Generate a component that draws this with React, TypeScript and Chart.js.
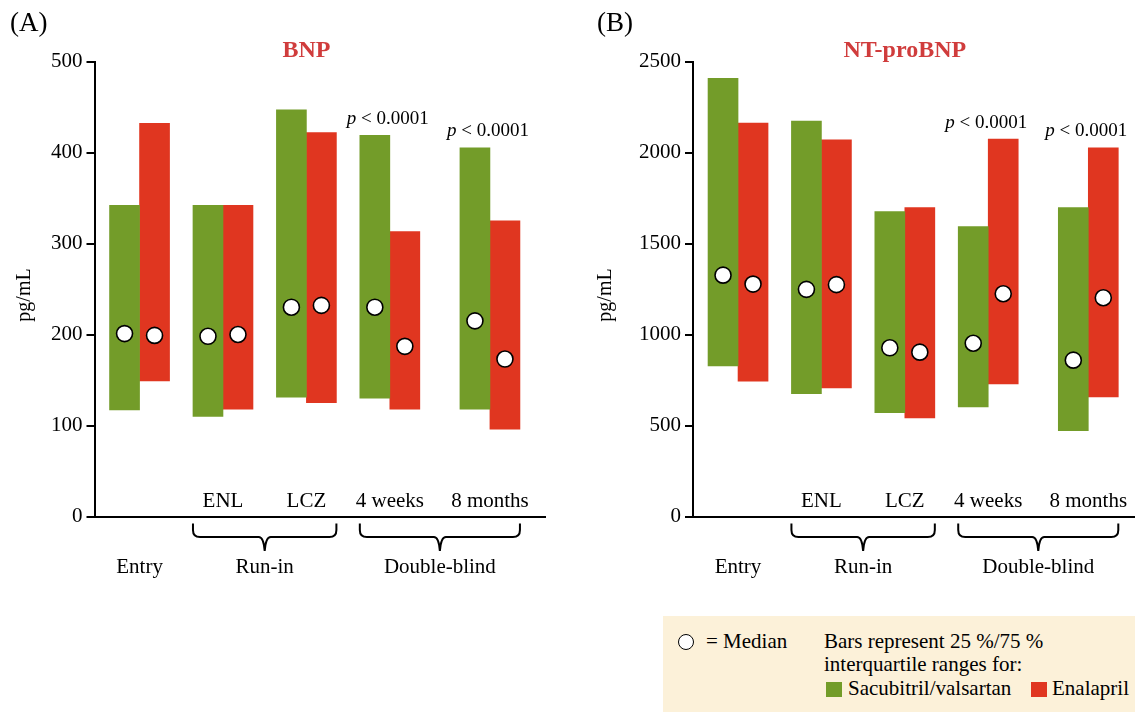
import React, { useEffect, useRef } from "react";
import { Chart, registerables } from "chart.js";

Chart.register(...registerables);

// ---------- data ----------
const timepoints = ["Entry", "ENL", "LCZ", "4 weeks", "8 months"];
const phaseOf = ["Entry", "Run-in", "Run-in", "Double-blind", "Double-blind"];
// position of each time point on the (linear) study axis
const timepointX = [0, 1, 2, 3, 4.2];
const pValues = ["", "", "", "< 0.0001", "< 0.0001"];

// BNP (pg/mL)
const bnpSacQ1 = [117, 110, 131, 130, 118];
const bnpSacQ3 = [342, 342, 447, 419, 405];
const bnpSacMed = [201, 198, 230, 230, 215];
const bnpEnaQ1 = [149, 118, 125, 118, 96];
const bnpEnaQ3 = [432, 342, 422, 313, 325];
const bnpEnaMed = [199, 200, 232, 187, 173];
const bnpTicks = [0, 100, 200, 300, 400, 500];

// NT-proBNP (pg/mL)
const ntSacQ1 = [828, 675, 571, 602, 471];
const ntSacQ3 = [2408, 2173, 1675, 1593, 1697];
const ntSacMed = [1326, 1248, 927, 952, 859];
const ntEnaQ1 = [744, 706, 542, 728, 657];
const ntEnaQ3 = [2162, 2069, 1697, 2074, 2025];
const ntEnaMed = [1277, 1274, 903, 1224, 1202];
const ntTicks = [0, 500, 1000, 1500, 2000, 2500];

const seriesNames = ["Sacubitril/valsartan", "Enalapril"];

// ---------- styles ----------
const GREEN = "#739c29";
const RED = "#e03620";
const TITLE_RED = "#d03c3c";
const SERIF = '"Liberation Serif", "Times New Roman", "DejaVu Serif", serif';

type PanelProps = {
  title: string;
  sacQ1: number[];
  sacQ3: number[];
  sacMed: number[];
  enaQ1: number[];
  enaQ3: number[];
  enaMed: number[];
  ticks: number[];
  width: number;
  yAxisWidth: number;
  padRight: number;
  xMax: number;
  yTitleX: number;
};

function drawBrace(ctx: CanvasRenderingContext2D, x1: number, x2: number, yTop: number, yMid: number, yTip: number) {
  const r = 7;
  const v = 6;
  const cx = (x1 + x2) / 2;
  ctx.beginPath();
  ctx.moveTo(x1, yTop);
  ctx.lineTo(x1, yMid - r);
  ctx.quadraticCurveTo(x1, yMid, x1 + r, yMid);
  ctx.lineTo(cx - v, yMid);
  ctx.quadraticCurveTo(cx - 1, yMid, cx, yTip);
  ctx.quadraticCurveTo(cx + 1, yMid, cx + v, yMid);
  ctx.lineTo(x2 - r, yMid);
  ctx.quadraticCurveTo(x2, yMid, x2, yMid - r);
  ctx.lineTo(x2, yTop);
  ctx.stroke();
}

function Panel(p: PanelProps) {
  const ref = useRef<HTMLCanvasElement | null>(null);
  useEffect(() => {
    if (!ref.current) return;
    const overlay = {
      id: "overlay",
      afterDatasetsDraw(chart: any) {
        const { ctx, chartArea, scales } = chart;
        const xs = scales.x;
        const ys = scales.y;
        const metaS = chart.getDatasetMeta(0);
        const metaE = chart.getDatasetMeta(1);
        ctx.save();
        // medians
        [p.sacMed, p.enaMed].forEach((arr, di) => {
          const meta = chart.getDatasetMeta(di);
          meta.data.forEach((el: any, j: number) => {
            const y = ys.getPixelForValue(arr[j]);
            ctx.beginPath();
            ctx.arc(el.x, y, 8, 0, Math.PI * 2);
            ctx.fillStyle = "#ffffff";
            ctx.fill();
            ctx.lineWidth = 1.6;
            ctx.strokeStyle = "#000";
            ctx.stroke();
          });
        });
        ctx.fillStyle = "#000";
        ctx.textAlign = "center";
        ctx.textBaseline = "middle";
        // time point labels inside plot
        ctx.font = `21px ${SERIF}`;
        timepoints.forEach((t, j) => {
          if (t === phaseOf[j]) return;
          ctx.fillText(t, xs.getPixelForValue(timepointX[j]), chartArea.bottom - 15);
        });
        // braces & phase labels
        const phases: string[] = [];
        phaseOf.forEach((ph) => { if (!phases.includes(ph)) phases.push(ph); });
        ctx.lineWidth = 2;
        ctx.strokeStyle = "#000";
        phases.forEach((ph) => {
          const idx = phaseOf.map((q, j) => (q === ph ? j : -1)).filter((j) => j >= 0);
          const a = idx[0];
          const b = idx[idx.length - 1];
          let cx;
          if (idx.length > 1) {
            const elA = metaS.data[a];
            const elB = metaE.data[b];
            const x1 = elA.x - elA.width / 2;
            const x2 = elB.x + elB.width / 2;
            drawBrace(ctx, x1, x2, chartArea.bottom + 7, chartArea.bottom + 20.5, chartArea.bottom + 34.5);
            cx = (x1 + x2) / 2;
          } else {
            cx = xs.getPixelForValue(timepointX[a]);
          }
          ctx.fillText(ph, cx, chartArea.bottom + 51);
        });
        // p values
        pValues.forEach((pv, j) => {
          if (!pv) return;
          const top = ys.getPixelForValue(Math.max(p.sacQ3[j], p.enaQ3[j]));
          const y = top - 16.5;
          const cx = xs.getPixelForValue(timepointX[j]) - 2;
          ctx.font = `italic 19px ${SERIF}`;
          const w1 = ctx.measureText("p").width;
          ctx.font = `19px ${SERIF}`;
          const rest = " " + pv;
          const w2 = ctx.measureText(rest).width;
          const x0 = cx - (w1 + w2) / 2;
          ctx.textAlign = "left";
          ctx.font = `italic 19px ${SERIF}`;
          ctx.fillText("p", x0, y);
          ctx.font = `19px ${SERIF}`;
          ctx.fillText(rest, x0 + w1, y);
          ctx.textAlign = "center";
        });
        // title
        ctx.font = `bold 24px ${SERIF}`;
        ctx.fillStyle = TITLE_RED;
        ctx.fillText(p.title, xs.getPixelForValue(timepointX[2]), 51);
        // y axis title
        ctx.fillStyle = "#000";
        ctx.font = `20px ${SERIF}`;
        ctx.translate(p.yTitleX, 295);
        ctx.rotate(-Math.PI / 2);
        ctx.fillText("pg/mL", 0, 0);
        ctx.restore();
      },
    };

    const chart = new Chart(ref.current, {
      type: "bar",
      data: {
        datasets: [
          {
            label: seriesNames[0],
            data: timepointX.map((x, i) => ({ x, y: [p.sacQ1[i], p.sacQ3[i]] })) as any,
            backgroundColor: GREEN,
            barThickness: 30,
          },
          {
            label: seriesNames[1],
            data: timepointX.map((x, i) => ({ x, y: [p.enaQ1[i], p.enaQ3[i]] })) as any,
            backgroundColor: RED,
            barThickness: 30,
          },
        ],
      },
      options: {
        animation: false,
        responsive: false,
        maintainAspectRatio: false,
        layout: { padding: { top: 61.5, left: 0, right: p.padRight, bottom: 0 } },
        plugins: {
          legend: { display: false },
          tooltip: { enabled: false },
          title: { display: false },
        },
        scales: {
          x: {
            type: "linear",
            min: -0.54,
            max: p.xMax,
            offset: false,
            ticks: { display: false },
            grid: { display: false },
            border: { display: true, color: "#000", width: 2 },
            afterFit: (s: any) => {
              s.height = 195.5;
            },
          },
          y: {
            type: "linear",
            min: p.ticks[0],
            max: p.ticks[p.ticks.length - 1],
            afterBuildTicks: (s: any) => {
              s.ticks = p.ticks.map((v) => ({ value: v }));
            },
            ticks: {
              color: "#000",
              font: { family: SERIF, size: 21 },
              padding: 4,
              callback: (v: any) => String(v),
            },
            grid: {
              drawOnChartArea: false,
              drawTicks: true,
              tickLength: 8,
              color: "#000",
              lineWidth: 2,
            },
            border: { display: true, color: "#000", width: 2 },
            afterFit: (s: any) => {
              s.width = p.yAxisWidth;
            },
          },
        },
      } as any,
      plugins: [overlay],
    });
    return () => chart.destroy();
  }, []);
  return (
    <canvas
      ref={ref}
      width={p.width}
      height={712}
      style={{ width: p.width, height: 712, display: "block" }}
    />
  );
}

const txt: React.CSSProperties = {
  position: "absolute",
  fontFamily: SERIF,
  fontSize: 21,
  lineHeight: "23px",
  whiteSpace: "nowrap",
  color: "#000",
};

export default function App() {
  return (
    <div
      style={{
        position: "fixed",
        left: 0,
        top: 0,
        width: 1135,
        height: 712,
        background: "#fff",
        overflow: "hidden",
      }}
    >
      <div style={{ position: "absolute", left: 0, top: 0 }}>
        <Panel
          title="BNP"
          sacQ1={bnpSacQ1}
          sacQ3={bnpSacQ3}
          sacMed={bnpSacMed}
          enaQ1={bnpEnaQ1}
          enaQ3={bnpEnaQ3}
          enaMed={bnpEnaMed}
          ticks={bnpTicks}
          width={567}
          yAxisWidth={94.5}
          padRight={22}
          xMax={4.86}
          yTitleX={25}
        />
      </div>
      <div style={{ position: "absolute", left: 567, top: 0 }}>
        <Panel
          title="NT-proBNP"
          sacQ1={ntSacQ1}
          sacQ3={ntSacQ3}
          sacMed={ntSacMed}
          enaQ1={ntEnaQ1}
          enaQ3={ntEnaQ3}
          enaMed={ntEnaMed}
          ticks={ntTicks}
          width={568}
          yAxisWidth={126}
          padRight={0}
          xMax={4.76}
          yTitleX={39}
        />
      </div>
      <div style={{ ...txt, left: 10, top: 8, fontSize: 27, lineHeight: "28px" }}>(A)</div>
      <div style={{ ...txt, left: 597, top: 8, fontSize: 27, lineHeight: "28px" }}>(B)</div>
      <div
        style={{
          position: "absolute",
          left: 663,
          top: 616,
          width: 472,
          height: 96,
          background: "#fcf1d9",
        }}
      >
        <div
          style={{
            position: "absolute",
            left: 15,
            top: 18,
            width: 14,
            height: 14,
            borderRadius: "50%",
            border: "1.6px solid #000",
            background: "#fff",
          }}
        />
        <div style={{ ...txt, left: 43, top: 14 }}>= Median</div>
        <div style={{ ...txt, left: 161, top: 14 }}>Bars represent 25 %/75 %</div>
        <div style={{ ...txt, left: 161, top: 37 }}>interquartile ranges for:</div>
        <div style={{ position: "absolute", left: 163, top: 66, width: 16, height: 15, background: GREEN }} />
        <div style={{ ...txt, left: 185, top: 61 }}>{seriesNames[0]}</div>
        <div style={{ position: "absolute", left: 368, top: 66, width: 16, height: 15, background: RED }} />
        <div style={{ ...txt, left: 389, top: 61 }}>{seriesNames[1]}</div>
      </div>
    </div>
  );
}
